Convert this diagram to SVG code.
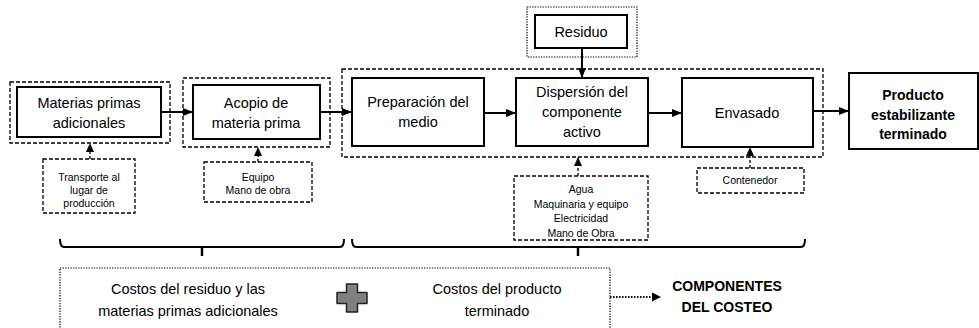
<svg xmlns="http://www.w3.org/2000/svg" width="979" height="328" viewBox="0 0 979 328">
<defs>
<marker id="ah" markerWidth="10" markerHeight="8" refX="9" refY="4" orient="auto" markerUnits="userSpaceOnUse">
<path d="M0,0 L10,4 L0,8 z" fill="#000"/>
</marker>
<marker id="ahs" markerWidth="9" markerHeight="8" refX="8" refY="4" orient="auto" markerUnits="userSpaceOnUse">
<path d="M0,0 L9,4 L0,8 z" fill="#000"/>
</marker>
<style>
.box{fill:#fff;stroke:#000;stroke-width:2}
.dash{fill:none;stroke:#000;stroke-width:1.3;stroke-dasharray:4,2}
.dot{fill:none;stroke:#000;stroke-width:1.2;stroke-dasharray:1.3,1.3}
.t{font-family:"Liberation Sans",Arial,sans-serif;font-size:14.5px;text-anchor:middle;fill:#000}
.s{font-family:"Liberation Sans",Arial,sans-serif;font-size:10.5px;text-anchor:middle;fill:#000}
.b{font-family:"Liberation Sans",Arial,sans-serif;font-size:14px;font-weight:bold;text-anchor:middle;fill:#000}
.arr{stroke:#000;stroke-width:2;fill:none}
.arrd{stroke:#000;stroke-width:1.3;fill:none;stroke-dasharray:3,2}
</style>
</defs>
<rect width="979" height="328" fill="#fff"/>

<g id="grp-materias">
<rect class="dash" x="10" y="82" width="160" height="61"/>
</g>
<g id="grp-acopio">
<rect class="dash" x="183" y="78" width="147" height="69"/>
</g>
<g id="grp-proceso">
<rect class="dash" x="342" y="69" width="481" height="88"/>
</g>
<g id="grp-residuo">
<rect class="dot" x="527" y="7" width="110" height="50"/>
</g>

<g id="connectors">
<line class="arr" x1="161" y1="112" x2="192" y2="112" marker-end="url(#ah)"/>
<line class="arr" x1="320" y1="112" x2="351" y2="112" marker-end="url(#ah)"/>
<line class="arr" x1="484" y1="113" x2="515" y2="113" marker-end="url(#ah)"/>
<line class="arr" x1="648" y1="113" x2="681" y2="113" marker-end="url(#ah)"/>
<line class="arr" x1="813" y1="111" x2="848" y2="111" marker-end="url(#ah)"/>
<line class="arr" x1="582" y1="48" x2="582" y2="77" marker-end="url(#ah)"/>
<line class="arrd" x1="90" y1="159" x2="90" y2="144" marker-end="url(#ahs)"/>
<line class="arrd" x1="258" y1="162" x2="258" y2="148" marker-end="url(#ahs)"/>
<line class="arrd" x1="578" y1="176" x2="578" y2="158" marker-end="url(#ahs)"/>
<line class="arrd" x1="750" y1="168" x2="750" y2="148" marker-end="url(#ahs)"/>
<line x1="610" y1="297" x2="653" y2="297" stroke="#000" stroke-width="2" stroke-dasharray="1.5,1.5"/>
<path d="M652,292.5 L661,297 L652,301.5 z" fill="#000"/>
</g>

<g id="n-materias">
<rect class="box" x="17" y="87" width="144" height="50"/>
<text class="t" x="89" y="108">Materias primas</text>
<text class="t" x="89" y="128">adicionales</text>
</g>
<g id="n-acopio">
<rect class="box" x="193" y="85" width="127" height="54"/>
<text class="t" x="256" y="108">Acopio de</text>
<text class="t" x="256" y="128">materia prima</text>
</g>
<g id="n-preparacion">
<rect class="box" x="352" y="78" width="132" height="68"/>
<text class="t" x="418" y="107">Preparación del</text>
<text class="t" x="418" y="127">medio</text>
</g>
<g id="n-dispersion">
<rect class="box" x="516" y="78" width="132" height="68"/>
<text class="t" x="582" y="97">Dispersión del</text>
<text class="t" x="582" y="117">componente</text>
<text class="t" x="582" y="137">activo</text>
</g>
<g id="n-envasado">
<rect class="box" x="682" y="78" width="131" height="69"/>
<text class="t" x="747" y="118">Envasado</text>
</g>
<g id="n-producto">
<rect class="box" x="849" y="73" width="129" height="76"/>
<text class="b" x="913" y="100">Producto</text>
<text class="b" x="913" y="120">estabilizante</text>
<text class="b" x="913" y="139">terminado</text>
</g>
<g id="n-residuo">
<rect class="box" x="535" y="15" width="92" height="33"/>
<text class="t" x="581" y="37">Residuo</text>
</g>
<g id="n-transporte">
<rect class="dash" x="43" y="159" width="92" height="54"/>
<text class="s" x="89" y="181">Transporte al</text>
<text class="s" x="89" y="194">lugar de</text>
<text class="s" x="89" y="207">producción</text>
</g>
<g id="n-equipo">
<rect class="dash" x="204" y="162" width="108" height="40"/>
<text class="s" x="258" y="181">Equipo</text>
<text class="s" x="258" y="194">Mano de obra</text>
</g>
<g id="n-agua">
<rect class="dash" x="514" y="176" width="134" height="64"/>
<text class="s" x="581" y="193">Agua</text>
<text class="s" x="581" y="208">Maquinaria y equipo</text>
<text class="s" x="581" y="222">Electricidad</text>
<text class="s" x="581" y="237">Mano de Obra</text>
</g>
<g id="n-contenedor">
<rect class="dash" x="697" y="168" width="107" height="25"/>
<text class="s" x="750" y="184">Contenedor</text>
</g>

<g id="brackets">
<path d="M60,239 Q60,247 64,247 L340,247 Q344,247 344,239" fill="none" stroke="#000" stroke-width="2"/>
<line x1="202" y1="247" x2="202" y2="256" stroke="#000" stroke-width="2.5"/>
<path d="M352,239 Q352,247 356,247 L801,247 Q805,247 805,239" fill="none" stroke="#000" stroke-width="2"/>
<line x1="578" y1="247" x2="578" y2="256" stroke="#000" stroke-width="2.5"/>
</g>

<g id="n-costos">
<rect class="dot" x="60" y="268" width="550" height="70"/>
<text class="t" x="188" y="294">Costos del residuo y las</text>
<text class="t" x="188" y="316">materias primas adicionales</text>
<path d="M346.5,284 L357.5,284 L357.5,292.5 L367,292.5 L367,303.5 L357.5,303.5 L357.5,312 L346.5,312 L346.5,303.5 L337,303.5 L337,292.5 L346.5,292.5 z" fill="#808080" stroke="#222" stroke-width="1.5" stroke-linejoin="round"/>
<text class="t" x="497" y="294">Costos del producto</text>
<text class="t" x="497" y="316">terminado</text>
</g>
<g id="n-componentes">
<text class="b" x="727" y="291">COMPONENTES</text>
<text class="b" x="727" y="312">DEL COSTEO</text>
</g>
</svg>
